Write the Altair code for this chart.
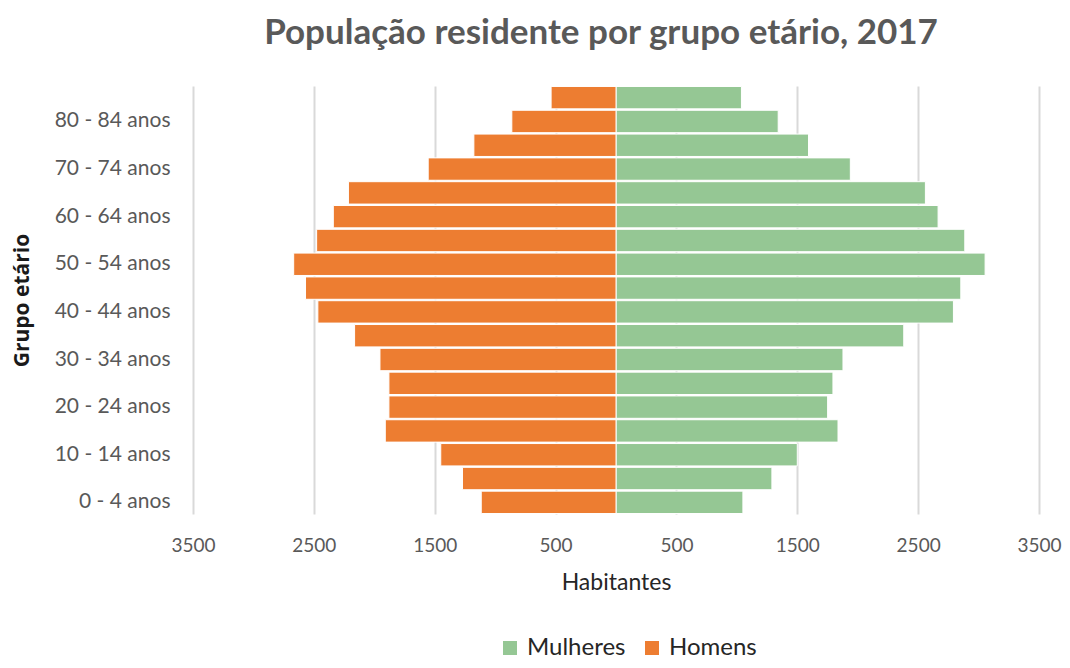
import altair as alt
import pandas as pd

ages = ["0 - 4 anos", "5 - 9 anos", "10 - 14 anos", "15 - 19 anos", "20 - 24 anos",
        "25 - 29 anos", "30 - 34 anos", "35 - 39 anos", "40 - 44 anos", "45 - 49 anos",
        "50 - 54 anos", "55 - 59 anos", "60 - 64 anos", "65 - 69 anos", "70 - 74 anos",
        "75 - 79 anos", "80 - 84 anos", "85 e mais anos"]
mulheres = [1050, 1290, 1500, 1837, 1751, 1795, 1878, 2381, 2792, 2853,
            3054, 2886, 2665, 2560, 1939, 1593, 1342, 1038]
homens = [1115, 1270, 1450, 1909, 1879, 1879, 1953, 2163, 2467, 2569,
          2667, 2477, 2339, 2214, 1554, 1176, 862, 537]
shown_labels = ["0 - 4 anos", "10 - 14 anos", "20 - 24 anos", "30 - 34 anos",
                "40 - 44 anos", "50 - 54 anos", "60 - 64 anos", "70 - 74 anos",
                "80 - 84 anos"]
x_ticks = [-3500, -2500, -1500, -500, 500, 1500, 2500, 3500]

rows = []
for a, m, h in zip(ages, mulheres, homens):
    rows.append({"grupo": a, "sexo": "Mulheres", "valor": m})
    rows.append({"grupo": a, "sexo": "Homens", "valor": -h})
df = pd.DataFrame(rows)

FONT = "Lato"

chart = alt.Chart(df).mark_bar(stroke="white", strokeWidth=1).encode(
    x=alt.X("valor:Q",
            scale=alt.Scale(domain=[-3500, 3500], nice=False, zero=False),
            axis=alt.Axis(values=x_ticks, labelExpr="format(abs(datum.value), 'd')",
                          title="Habitantes", grid=True, gridColor="#D9D9D9", gridWidth=2,
                          domain=False, ticks=False, labelFlush=False, labelOverlap=False,
                          labelBound=False,
                          labelFont=FONT, labelFontSize=19,
                          labelColor="#595959", labelPadding=22,
                          titleFont=FONT, titleFontSize=23, titleFontWeight="normal",
                          titleColor="#262626", titlePadding=16)),
    y=alt.Y("grupo:N", sort=list(reversed(ages)),
            scale=alt.Scale(paddingInner=0.06, paddingOuter=0.02),
            axis=alt.Axis(values=shown_labels, title="Grupo etário", domain=False,
                          ticks=False, grid=False, labelFont=FONT, labelFontSize=21,
                          labelColor="#595959", labelPadding=23,
                          titleFont="Open Sans", titleFontSize=21, titleFontWeight="bold",
                          titleColor="#1a1a1a", titlePadding=22)),
    color=alt.Color("sexo:N",
                    scale=alt.Scale(domain=["Mulheres", "Homens"], range=["#95C794", "#ED7D31"]),
                    legend=alt.Legend(title=None, orient="none", direction="horizontal",
                                      legendX=305, legendY=550, symbolType="square",
                                      symbolSize=196, symbolStrokeWidth=0,
                                      labelFont=FONT, labelFontSize=24, labelColor="#262626",
                                      columnPadding=14, labelOffset=5)),
).properties(
    width=846, height=428,
    title=alt.TitleParams("População residente por grupo etário, 2017",
                          font=FONT, fontSize=35, fontWeight="bold", color="#595959",
                          anchor="middle", frame="group", dx=-15, offset=35),
    padding={"left": 185, "top": 78, "right": 23, "bottom": 146},
    autosize=alt.AutoSizeParams(type="none"),
).configure_view(stroke=None)

chart.save("out.html", embed_options={"renderer": "svg", "actions": False})
